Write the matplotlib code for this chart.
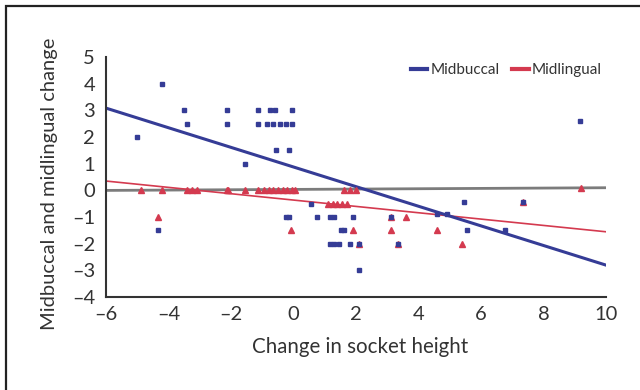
import matplotlib
matplotlib.use('Agg')
import matplotlib.pyplot as plt
from matplotlib.lines import Line2D
from matplotlib.patches import Rectangle

plt.rcParams['font.family'] = ['Lato', 'DejaVu Sans']

# Midbuccal (blue squares)
buccal_x = [-5.0, -4.2, -4.35, -3.5, -3.4, -2.15, -2.15, -1.55, -1.15, -1.15,
            -0.85, -0.65, -0.45, -0.25, -0.05, -0.75, -0.6, -0.05, -0.55, -0.15,
            -0.25, -0.15, 0.55, 0.75, 1.15, 1.3, 1.9, 1.6, 1.5, 1.15,
            1.3, 1.45, 1.8, 2.1, 2.1, 3.1, 3.35, 4.6, 4.9, 5.45,
            5.55, 6.75, 7.35, 9.15]
buccal_y = [2.0, 4.0, -1.5, 3.0, 2.5, 3.0, 2.5, 1.0, 3.0, 2.5,
            2.5, 2.5, 2.5, 2.5, 2.5, 3.0, 3.0, 3.0, 1.5, 1.5,
            -1.0, -1.0, -0.5, -1.0, -1.0, -1.0, -1.0, -1.5, -1.5, -2.0,
            -2.0, -2.0, -2.0, -2.0, -3.0, -1.0, -2.0, -0.9, -0.9, -0.45,
            -1.5, -1.5, -0.45, 2.6]

# Midlingual (red triangles)
lingual_x = [-4.9, -4.2, -4.35, -3.4, -3.25, -3.1, -2.15, -2.1, -1.55, -1.15,
             -0.95, -0.8, -0.65, -0.5, -0.35, -0.2, -0.05, 0.05, -0.1, 1.1,
             1.25, 1.4, 1.55, 1.7, 1.6, 1.8, 2.0, 1.9, 2.1, 3.1,
             3.1, 3.35, 3.6, 4.6, 5.4, 7.35, 9.2]
lingual_y = [0.0, 0.0, -1.0, 0.0, 0.0, 0.0, 0.0, 0.0, 0.0, 0.0,
             0.0, 0.0, 0.0, 0.0, 0.0, 0.0, 0.0, 0.0, -1.5, -0.5,
             -0.5, -0.5, -0.5, -0.5, 0.0, 0.0, 0.0, -1.5, -2.0, -1.0,
             -1.5, -2.0, -1.0, -1.5, -2.0, -0.45, 0.1]

# trend lines (end points at x = -6 and x = 10)
trend_x = [-6, 10]
buccal_trend = [3.08, -2.8]
lingual_trend = [0.35, -1.55]
zero_line = [0.0, 0.1]

blue = '#353c96'
red = '#d43a4f'
gray = '#7c7c7c'
text_color = '#333333'

fig = plt.figure(figsize=(6.4, 3.9), dpi=100)
ax = fig.add_axes([0.166, 0.238, 0.781, 0.616])

ax.plot(trend_x, zero_line, color=gray, lw=2, zorder=1)
ax.plot(trend_x, lingual_trend, color=red, lw=1.2, zorder=2)
ax.plot(trend_x, buccal_trend, color=blue, lw=2.2, zorder=2)
ax.plot(lingual_x, lingual_y, ls='none', marker='^', ms=4.5, color=red, zorder=3)
ax.plot(buccal_x, buccal_y, ls='none', marker='s', ms=3.2, color=blue, zorder=4)

ax.set_xlim(-6, 10)
ax.set_ylim(-4, 5)
ax.set_xticks(range(-6, 11, 2))
ax.set_yticks(range(-4, 6))
ax.set_xticklabels([str(t).replace('-', '\u2013') for t in range(-6, 11, 2)])
ax.set_yticklabels([str(t).replace('-', '\u2013') for t in range(-4, 6)])
ax.tick_params(length=0, labelsize=14.5, colors=text_color)
ax.tick_params(axis='y', pad=8)
ax.tick_params(axis='x', pad=6)
for side in ['top', 'right']:
    ax.spines[side].set_visible(False)
for side in ['left', 'bottom']:
    ax.spines[side].set_color('#333333')
    ax.spines[side].set_linewidth(1.5)

ax.set_xlabel('Change in socket height', fontsize=14.8, color=text_color)
ax.set_ylabel('Midbuccal and midlingual change', fontsize=14.5, color=text_color)
ax.xaxis.set_label_coords(0.508, -0.165)
ax.yaxis.set_label_coords(-0.097, 0.47)

handles = [Line2D([], [], color=blue, lw=3), Line2D([], [], color=red, lw=3)]
ax.legend(handles, ['Midbuccal', 'Midlingual'], loc='center', ncol=2,
          bbox_to_anchor=(0.80, 0.946), frameon=False, fontsize=11,
          handlelength=1.1, handletextpad=0.2, columnspacing=0.8,
          labelcolor=text_color)

frame = Rectangle((6 / 640, -0.2), 1.2, 1.2 - 6 / 390, transform=fig.transFigure,
                  fill=False, edgecolor='#222222', lw=1.6)
fig.patches.append(frame)

fig.savefig('out.png', dpi=100)
